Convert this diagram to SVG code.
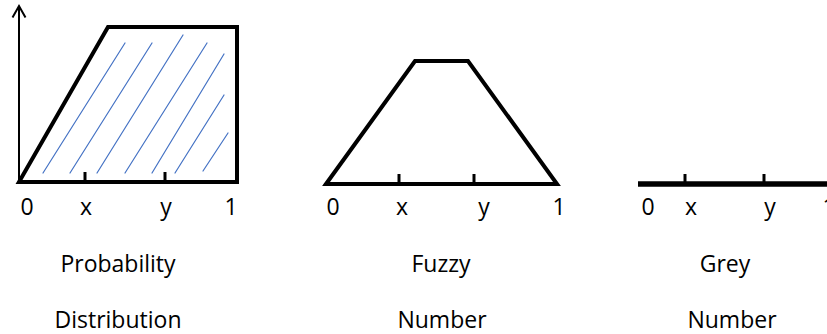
<svg xmlns="http://www.w3.org/2000/svg" width="827" height="334" viewBox="0 0 827 334">
  <style>
    .shape { fill: none; stroke: #000; stroke-width: 4; stroke-linejoin: miter; stroke-linecap: square; }
    .tick { stroke: #000; stroke-width: 3; }
    .hatch { stroke: #4472C4; stroke-width: 1.2; stroke-linecap: round; }
    .axis { fill: none; stroke: #000; stroke-width: 2; }
    text { font-family: "Open Sans", "Noto Sans", "DejaVu Sans", sans-serif; font-size: 23px; fill: #000; text-anchor: middle; }
  </style>
  <rect width="827" height="334" fill="#fff"/>

  <g id="probability-distribution">
    <g id="axis">
      <line class="axis" x1="19" y1="182" x2="19" y2="6"/>
      <polyline class="axis" points="12.5,17.5 19,6 25.5,17.5"/>
    </g>
    <g id="hatching">
      <line class="hatch" x1="43" y1="173" x2="125" y2="43"/>
      <line class="hatch" x1="70" y1="173" x2="152" y2="43"/>
      <line class="hatch" x1="97" y1="173" x2="183" y2="35"/>
      <line class="hatch" x1="125" y1="173" x2="207" y2="43"/>
      <line class="hatch" x1="152" y1="173" x2="224" y2="54"/>
      <line class="hatch" x1="175" y1="173" x2="224" y2="95"/>
      <line class="hatch" x1="203" y1="171" x2="228" y2="133"/>
    </g>
    <path class="shape" d="M19,182 L108,27 L237,27 L237,182 Z"/>
    <line class="tick" x1="85" y1="172" x2="85" y2="182"/>
    <line class="tick" x1="165" y1="172" x2="165" y2="182"/>
    <text x="27" y="215">0</text>
    <text x="86" y="215">x</text>
    <text x="166" y="215">y</text>
    <text x="231" y="215">1</text>
    <text x="118" y="272">Probability</text>
    <text x="118" y="328">Distribution</text>
  </g>

  <g id="fuzzy-number">
    <path class="shape" d="M326,184 L415,61 L468,61 L557,184 Z"/>
    <line class="tick" x1="399" y1="174" x2="399" y2="184"/>
    <line class="tick" x1="474" y1="174" x2="474" y2="184"/>
    <text x="333" y="215">0</text>
    <text x="402" y="215">x</text>
    <text x="484" y="215">y</text>
    <text x="559" y="215">1</text>
    <text x="441" y="272">Fuzzy</text>
    <text x="442" y="328">Number</text>
  </g>

  <g id="grey-number">
    <line x1="638" y1="184" x2="827" y2="184" stroke="#000" stroke-width="5.5"/>
    <line class="tick" x1="685" y1="174" x2="685" y2="184"/>
    <line class="tick" x1="764" y1="174" x2="764" y2="184"/>
    <text x="648" y="215">0</text>
    <text x="691" y="215">x</text>
    <text x="770" y="215">y</text>
    <text x="829" y="215">1</text>
    <text x="725" y="272">Grey</text>
    <text x="732" y="328">Number</text>
  </g>

  <g id="connectors"/>
</svg>
